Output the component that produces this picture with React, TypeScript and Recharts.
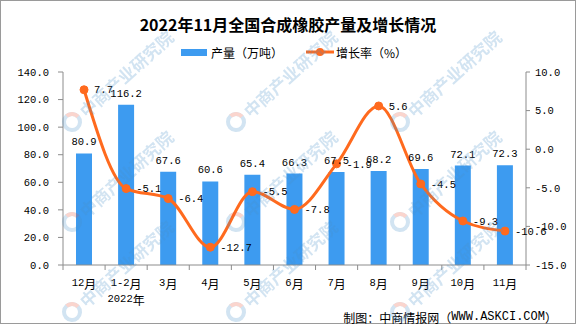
import React from 'react';
import { ComposedChart, Bar, Line, XAxis, YAxis, LabelList } from 'recharts';

const categories = ['12月', '1-2月', '3月', '4月', '5月', '6月', '7月', '8月', '9月', '10月', '11月'];
const production = [80.9, 116.2, 67.6, 60.6, 65.4, 66.3, 67.5, 68.2, 69.6, 72.1, 72.3];
const growth = [7.7, -5.1, -6.4, -12.7, -5.5, -7.8, -1.9, 5.6, -4.5, -9.3, -10.6];
const leftTicks = [0, 20, 40, 60, 80, 100, 120, 140];
const rightTicks = [-15, -10, -5, 0, 5, 10];
const subLabels: Record<string, string> = { '1-2月': '2022年' };

const titleText = '2022年11月全国合成橡胶产量及增长情况';
const barName = '产量（万吨）';
const lineName = '增长率（%）';
const footerText = '制图：中商情报网（WWW.ASKCI.COM）';
const watermarkText = '中商产业研究院';

const data = categories.map((c, i) => ({ name: c, production: production[i], growth: growth[i] }));

const W = 576;
const H = 324;
const margin = { top: 72, right: 10, bottom: 29, left: 13 };
const leftW = 50;
const rightW = 40;
const plotLeft = margin.left + leftW;
const plotRight = W - margin.right - rightW;
const band = (plotRight - plotLeft) / categories.length;

const BAR = '#3D9BF0';
const LINE = '#FF6A1E';
const AXIS = '#8C8C8C';
const MONO = '"Liberation Mono", "Noto Sans CJK SC", monospace';
const CJK = '"Noto Sans CJK SC", sans-serif';

const isCJK = (ch: string) => /[\u3000-\u9fff\uff00-\uffef]/.test(ch);

function runs(s: string) {
  const out: { t: string; cjk: boolean }[] = [];
  for (const ch of s) {
    const c = isCJK(ch);
    if (out.length && out[out.length - 1].cjk === c) out[out.length - 1].t += ch;
    else out.push({ t: ch, cjk: c });
  }
  return out;
}

function MixedText({ x, y, text, anchor = 'middle', mono = 10.5, cjk = 12, fill = '#000', weight = 'normal' }: any) {
  return (
    <text x={x} y={y} textAnchor={anchor} dominantBaseline="central" fill={fill} fontWeight={weight}>
      {runs(text).map((r, i) => (
        <tspan key={i} fontFamily={r.cjk ? CJK : MONO} fontSize={r.cjk ? cjk : mono}>
          {r.t}
        </tspan>
      ))}
    </text>
  );
}

const CategoryTick = (props: any) => {
  const { x, y, payload, index } = props;
  const label = String(payload.value);
  const sub = subLabels[label];
  return (
    <g>
      <line x1={x + band / 2} x2={x + band / 2} y1={y} y2={y + 5} stroke={AXIS} />
      {index === 0 && <line x1={x - band / 2} x2={x - band / 2} y1={y} y2={y + 5} stroke={AXIS} />}
      <MixedText x={x} y={y + 18} text={label} />
      {sub && <MixedText x={x} y={y + 34} text={sub} />}
    </g>
  );
};

const fmt1 = (v: any) => Number(v).toFixed(1);

const wmPositions: [number, number][] = [];
for (const wx of [72, 236, 400]) {
  for (const wy of [122, 222, 312]) wmPositions.push([wx, wy]);
}

export default function App() {
  return (
    <div style={{ position: 'absolute', left: 0, top: 0, width: W, height: H, background: '#fff' }}>
      <ComposedChart width={W} height={H} data={data} margin={margin}>
        <XAxis
          dataKey="name"
          height={30}
          tickLine={false}
          tickSize={0}
          tickMargin={0}
          interval={0}
          stroke={AXIS}
          tick={<CategoryTick />}
        />
        <YAxis
          yAxisId="left"
          orientation="left"
          width={leftW}
          domain={[0, 140]}
          ticks={leftTicks}
          tickFormatter={fmt1}
          stroke={AXIS}
          tickSize={5}
          tickMargin={9}
          tick={{ fill: '#000', fontSize: 10.5, fontFamily: MONO }}
          interval={0}
        />
        <YAxis
          yAxisId="right"
          orientation="right"
          width={rightW}
          domain={[-15, 10]}
          ticks={rightTicks}
          tickFormatter={fmt1}
          stroke={AXIS}
          tickSize={4}
          tickMargin={5}
          tick={{ fill: '#000', fontSize: 10.5, fontFamily: MONO }}
          interval={0}
        />
        <Bar yAxisId="left" dataKey="production" fill={BAR} barSize={16} isAnimationActive={false}>
          <LabelList
            dataKey="production"
            position="top"
            offset={8}
            formatter={fmt1}
            fill="#000"
            fontSize={10.5}
            fontFamily={MONO}
          />
        </Bar>
        <Line
          yAxisId="right"
          type="monotone"
          dataKey="growth"
          stroke={LINE}
          strokeWidth={3}
          dot={{ r: 4, fill: LINE, stroke: LINE, strokeWidth: 1 }}
          activeDot={false}
          isAnimationActive={false}
        >
          <LabelList
            dataKey="growth"
            position="right"
            offset={10}
            formatter={fmt1}
            fill="#000"
            fontSize={10.5}
            fontFamily={MONO}
          />
        </Line>
      </ComposedChart>
      <svg width={W} height={H} style={{ position: 'absolute', left: 0, top: 0, pointerEvents: 'none' }}>
        <rect x={0.5} y={0.5} width={W - 1} height={H - 1} fill="none" stroke="#9A9A9A" />
        <text x={W / 2} y={24} textAnchor="middle" dominantBaseline="central" fontFamily={CJK} fontSize={16} fontWeight="bold" fill="#000">
          {titleText}
        </text>
        <rect x={181} y={49} width={26} height={7} fill={BAR} />
        <text x={211} y={52} dominantBaseline="central" fontFamily={CJK} fontSize={12} fill="#000">{barName}</text>
        <line x1={306} x2={334} y1={52} y2={52} stroke={LINE} strokeWidth={3} />
        <circle cx={320} cy={52} r={4} fill={LINE} />
        <text x={336} y={52} dominantBaseline="central" fontFamily={CJK} fontSize={12} fill="#000">{lineName}</text>
        <MixedText x={557} y={317} text={footerText} anchor="end" mono={12} cjk={12} />
        <g opacity={0.25}>
          {wmPositions.map(([wx, wy], i) => (
            <g key={i} transform={`translate(${wx},${wy}) rotate(-42)`}>
              <circle cx={0} cy={0} r={8} fill="none" stroke="#4A90C8" strokeWidth={4} />
              <path d="M 0 -8 A 8 8 0 0 1 8 0" fill="none" stroke="#E8553A" strokeWidth={4} />
              <text x={13} y={0} dominantBaseline="central" fontFamily={CJK} fontSize={17} fontWeight="bold" fill="#4A90C8">
                {watermarkText}
              </text>
            </g>
          ))}
        </g>
      </svg>
    </div>
  );
}
